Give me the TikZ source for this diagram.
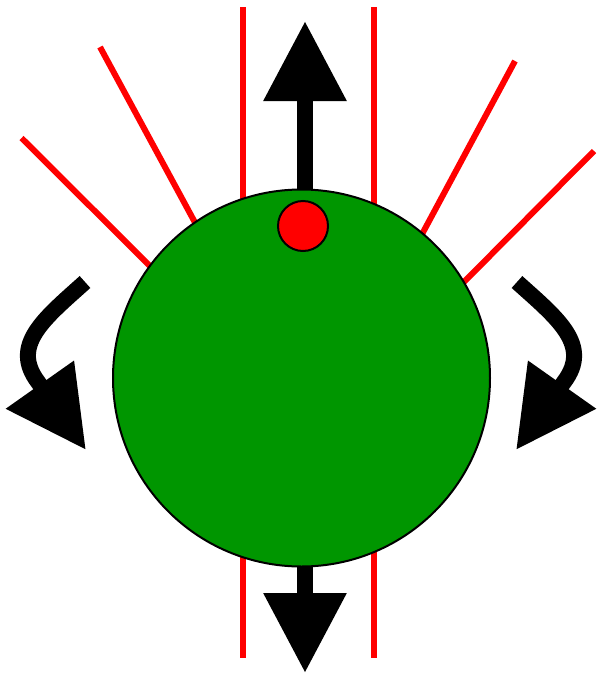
\documentclass[tikz,border=0pt]{standalone}
\usepackage{tikz}
\usetikzlibrary{arrows.meta,backgrounds}
\definecolor{ballgreen}{RGB}{0,150,0}

\begin{document}
\begin{tikzpicture}[x=0.5pt,y=-0.5pt,
  ray/.style={red,line width=3pt},
  push/.style={line width=8pt,-{Triangle[length=40pt,width=39.5pt]}},
  curl/.style={line width=8pt,-{Triangle[length=40pt,width=39.5pt]}}]
  \useasboundingbox (0,0) rectangle (596,675);
  \node[circle,draw,line width=1pt,fill=ballgreen,minimum size=188.5pt,inner sep=0pt] (ball) at (301.5,378) {};
  \node[circle,draw,line width=1pt,fill=red,minimum size=25pt,inner sep=0pt] (dot) at (303,226) {};
  \coordinate (up) at (305,21);
  \coordinate (down) at (305,673);
  \coordinate (lstart) at (85,282);
  \coordinate (ltip) at (86,450);
  \coordinate (rstart) at (517,282);
  \coordinate (rtip) at (516,450);
  \begin{scope}[on background layer]
    % field lines behind the ball
    \draw[ray] (243,7) -- (243,658);
    \draw[ray] (374,7) -- (374,658);
    \draw[ray] (21.5,138) -- (160,276);
    \draw[ray] (100,47) -- (205,241);
    \draw[ray] (515,61) -- (413,251);
    \draw[ray] (594,151) -- (455,291);
    \draw[push] (up |- ball.center) -- (up);
    \draw[push] (down |- ball.center) -- (down);
  \end{scope}
  \draw[curl] (lstart) .. controls (45,318) and (10,345) .. (38,382) -- (ltip);
  \draw[curl] (rstart) .. controls (557,318) and (592,345) .. (564,382) -- (rtip);
\end{tikzpicture}
\end{document}
